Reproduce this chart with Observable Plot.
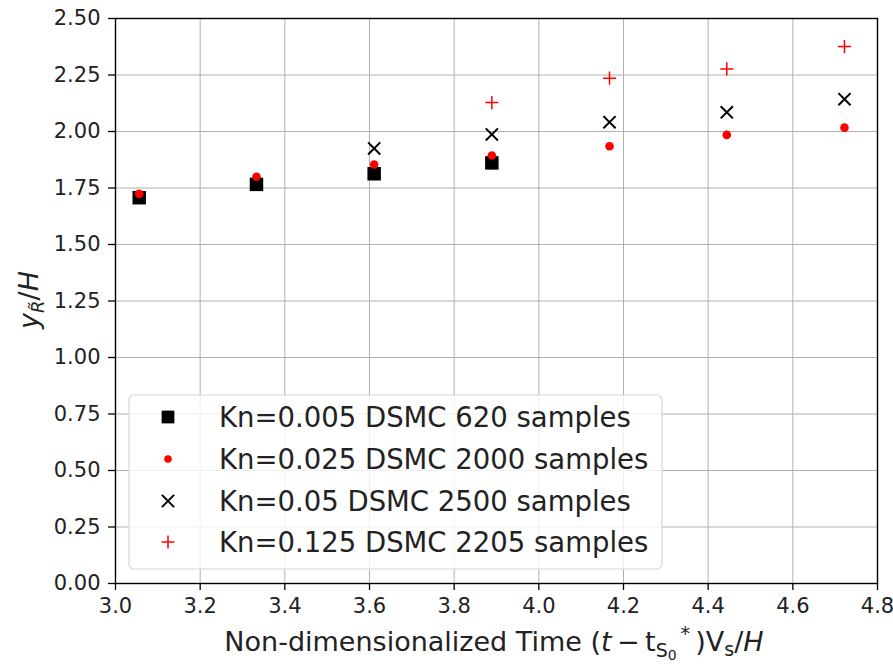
<!DOCTYPE html>
<html><head><meta charset="utf-8">
<script src="https://cdn.jsdelivr.net/npm/d3@7"></script>
<script src="https://cdn.jsdelivr.net/npm/@observablehq/plot@0.6"></script>
<style>
body{margin:0;background:#fff;font-family:"DejaVu Sans",sans-serif;}
#chart{position:relative;width:893px;height:665px;}
</style></head><body><div id="chart"></div>
<script>
// Non-dimensionalized time values
const time = [3.056, 3.333, 3.611, 3.889, 4.167, 4.444, 4.722];
// Series names
const seriesNames = [
  "Kn=0.005 DSMC 620 samples",
  "Kn=0.025 DSMC 2000 samples",
  "Kn=0.05 DSMC 2500 samples",
  "Kn=0.125 DSMC 2205 samples"
];
// y_R/H values per series (null = no point)
const kn005 = [1.707, 1.766, 1.813, 1.861, null, null, null];
const kn025 = [1.724, 1.800, 1.854, 1.894, 1.935, 1.985, 2.017];
const kn05  = [null, null, 1.925, 1.987, 2.041, 2.085, 2.143];
const kn125 = [null, null, null, 2.128, 2.236, 2.277, 2.376];
// Tick labels
const xTicks = [3.0, 3.2, 3.4, 3.6, 3.8, 4.0, 4.2, 4.4, 4.6, 4.8];
const yTicks = [0, 0.25, 0.5, 0.75, 1.0, 1.25, 1.5, 1.75, 2.0, 2.25, 2.5];

const rows = (vals) => time.map((t, i) => ({t, v: vals[i]})).filter(d => d.v != null);

const styles = [
  {symbol: "square", fill: "black", stroke: "none", r: 7.6},
  {symbol: "circle", fill: "red", stroke: "none", r: 4.3},
  {symbol: "times", fill: "none", stroke: "black", r: 5.6, strokeWidth: 2},
  {symbol: "plus", fill: "none", stroke: "red", r: 4.3, strokeWidth: 1.5}
];
const seriesData = [kn005, kn025, kn05, kn125];

const chart = Plot.plot({
  width: 893,
  height: 665,
  marginLeft: 115,
  marginRight: 16,
  marginTop: 18,
  marginBottom: 82,
  style: {fontFamily: "DejaVu Sans", background: "white", color: "#000"},
  x: {domain: [3.0, 4.8], label: null},
  y: {domain: [0, 2.5], label: null},
  marks: [
    Plot.gridX(xTicks, {stroke: "#b0b0b0", strokeOpacity: 1, strokeWidth: 1}),
    Plot.gridY(yTicks, {stroke: "#b0b0b0", strokeOpacity: 1, strokeWidth: 1}),
    Plot.axisX(xTicks, {tickSize: 7, tickPadding: 8, tickFormat: d3.format(".1f"), fontSize: 21, label: null, strokeWidth: 1.3, fill: "#222"}),
    Plot.axisY(yTicks, {tickSize: 7, tickPadding: 8, tickFormat: d3.format(".2f"), fontSize: 21, label: null, strokeWidth: 1.3, fill: "#222"}),
    ...seriesData.map((vals, k) => Plot.dot(rows(vals), {
      x: "t", y: "v",
      symbol: () => styles[k].symbol,
      r: styles[k].r,
      fill: styles[k].fill,
      stroke: styles[k].stroke,
      strokeWidth: styles[k].strokeWidth || 1
    })),
    Plot.frame({stroke: "black", strokeWidth: 1.4})
  ]
});

document.getElementById("chart").appendChild(chart);
const svg = d3.select(chart);

// Axis labels
const xl = svg.append("text")
  .attr("x", 494).attr("y", 651)
  .attr("text-anchor", "middle")
  .attr("font-size", 27)
  .attr("fill", "#222")
  .attr("font-family", "DejaVu Sans");
xl.append("tspan").text("Non-dimensionalized Time (");
xl.append("tspan").attr("font-style", "italic").text("t");
xl.append("tspan").text("\u2009\u2212\u2009t");
xl.append("tspan").attr("dy", 6).attr("font-size", 19).text("S");
xl.append("tspan").attr("dy", 3).attr("font-size", 14).text("0");
xl.append("tspan").attr("dy", -20).attr("font-size", 19).text("\u2009*");
xl.append("tspan").attr("dy", 11).attr("font-size", 27).text("\u2009)V");
xl.append("tspan").attr("dy", 5).attr("font-size", 19).text("s");
xl.append("tspan").attr("dy", -5).attr("font-size", 27).text("/");
xl.append("tspan").attr("font-style", "italic").text("H");

const yl = svg.append("text")
  .attr("transform", "translate(38,300) rotate(-90)")
  .attr("text-anchor", "middle")
  .attr("font-size", 27)
  .attr("fill", "#222")
  .attr("font-family", "DejaVu Sans");
yl.append("tspan").attr("font-style", "italic").text("y");
yl.append("tspan").attr("dy", 6).attr("font-size", 18).attr("font-style", "italic").text("R\u0303");
yl.append("tspan").attr("dy", -6).attr("font-size", 27).text("/");
yl.append("tspan").attr("font-style", "italic").text("H");

// Legend
const lg = svg.append("g").attr("text-anchor", "start");
lg.append("rect")
  .attr("x", 129).attr("y", 395).attr("width", 533).attr("height", 174)
  .attr("rx", 5)
  .attr("fill", "white").attr("fill-opacity", 0.8)
  .attr("stroke", "#d6d6d6").attr("stroke-width", 1.2);
const symMap = {square: d3.symbolSquare, circle: d3.symbolCircle, times: d3.symbolTimes, plus: d3.symbolPlus};
const rowY = [417, 459, 501, 542];
seriesNames.forEach((name, k) => {
  const s = styles[k];
  const r = s.symbol === "circle" ? 3.8 : (s.symbol === "square" ? 7.2 : s.r);
  lg.append("path")
    .attr("transform", `translate(168,${rowY[k]})`)
    .attr("d", d3.symbol(symMap[s.symbol], r * r * Math.PI)())
    .attr("fill", s.fill).attr("stroke", s.stroke)
    .attr("stroke-width", s.strokeWidth || 1);
  lg.append("text")
    .attr("x", 219).attr("y", rowY[k]).attr("dy", "0.36em")
    .attr("text-anchor", "start")
    .attr("font-size", 27.5).attr("fill", "#222")
    .attr("font-family", "DejaVu Sans")
    .text(name);
});
</script>
</body></html>
